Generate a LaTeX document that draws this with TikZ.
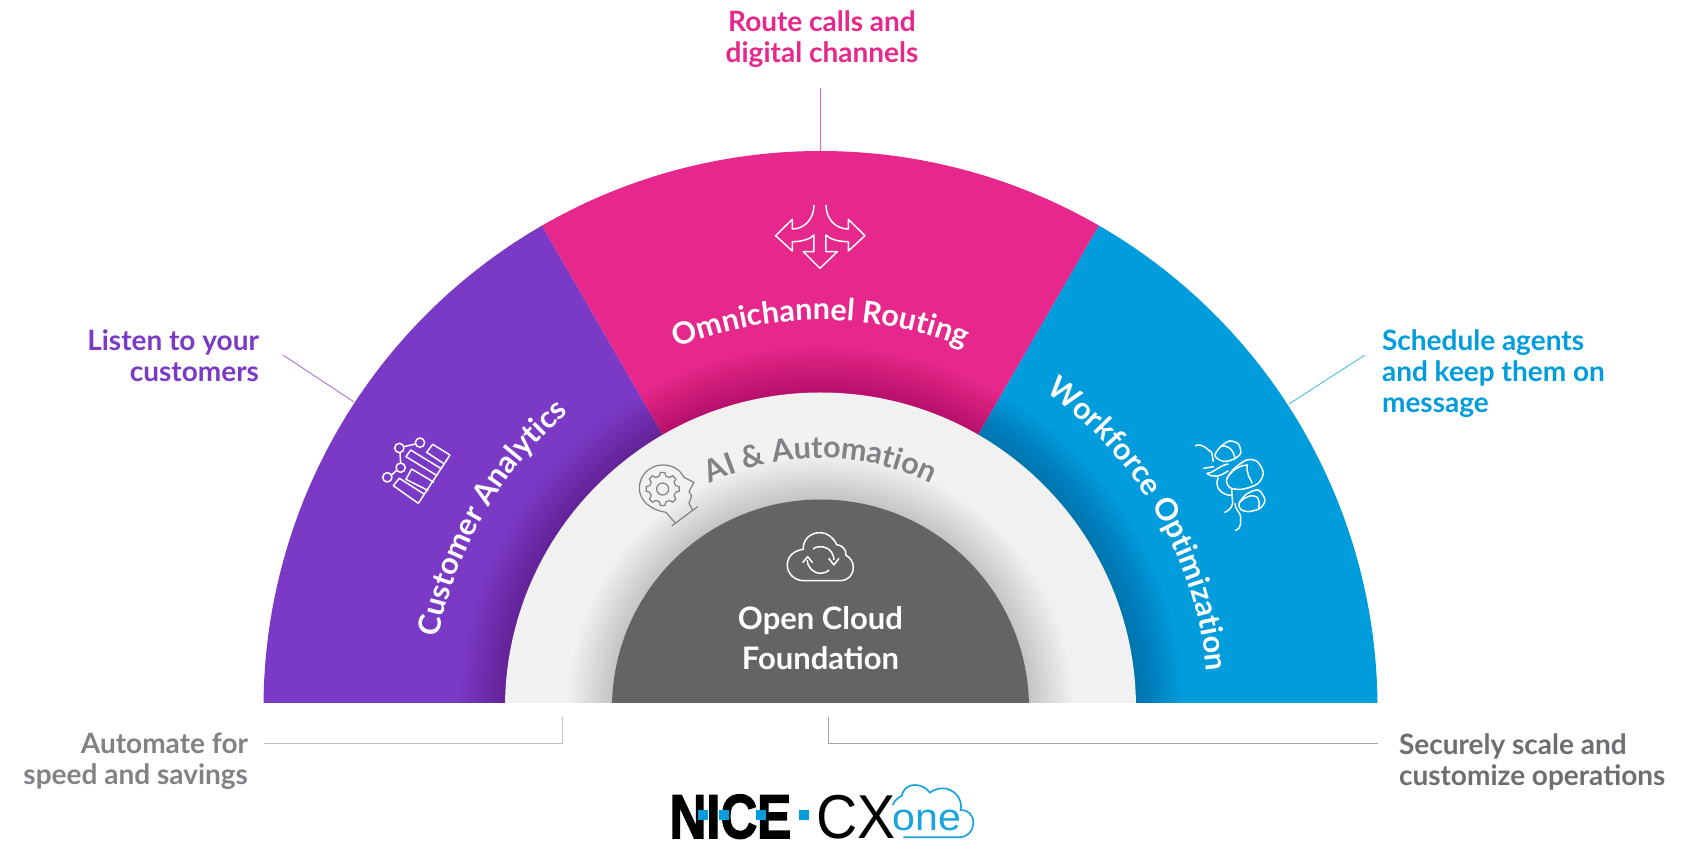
\documentclass[tikz,border=0pt]{standalone}
\usepackage{fontspec}
\setmainfont{Lato}
\newfontfamily\logofont{Liberation Sans}
\newfontfamily\nicefont[BoldFeatures={FakeBold=2.5}]{Liberation Sans}
\usetikzlibrary{decorations.text}
\definecolor{cxpurple}{HTML}{7B3AC6}
\definecolor{cxpink}{HTML}{E6278C}
\definecolor{cxblue}{HTML}{019CDC}
\definecolor{cxgrey}{HTML}{636466}
\definecolor{cxlight}{HTML}{F1F1F1}
\definecolor{cxtext}{HTML}{808285}
\definecolor{cxdark}{HTML}{6D6E71}
\definecolor{cxlogo}{HTML}{1AA3DF}
\newcommand{\curvefont}{\fontsize{30.5}{31}\selectfont\bfseries}
\tikzset{
  sidelabel/.style={font=\fontsize{28}{31}\selectfont\bfseries},
  leader/.style={line width=0.9pt},
  iconline/.style={draw=white,line width=1.5pt,line join=round},
  headline/.style={draw=cxtext,line width=1.2pt,line join=round},
}

\begin{document}
\begin{tikzpicture}[x=1pt,y=1pt]
          \useasboundingbox (-820.5,-135) rectangle (860.5,708);

          % half disc, everything cut at the base line
          \begin{scope}
              \clip (-600,5) rectangle (600,600);
              \fill[cxpurple] (0,0) -- (180:557) arc (180:120:557) -- cycle;
              \fill[cxpink] (0,0) -- (120:557) arc (120:60:557) -- cycle;
              \fill[cxblue] (0,0) -- (60:557) arc (60:0:557) -- cycle;
              \foreach \r in {362,360,...,317}
                  \fill[black,opacity=0.0075] (0,0) circle (\r);
              \fill[cxlight] (0,0) circle (315.5);
              \foreach \r in {252,250,...,209}
                  \fill[black,opacity=0.008] (0,0) circle (\r);
              \fill[cxgrey] (0,0) circle (208.5);
          \end{scope}

          % names on the arcs
          \path[decorate,decoration={text along path,text align=center,
              text={|\color{white}\curvefont|Customer Analytics}}] (180:388) arc (180:120:388);
          \path[decorate,decoration={text along path,text align=center,
              text={|\color{white}\curvefont|Omnichannel Routing}}] (120:388) arc (120:60:388);
          \path[decorate,decoration={text along path,text align=center,
              text={|\color{white}\curvefont|Workforce Optimization}}] (60:388) arc (60:0:388);
          \path[decorate,decoration={text along path,text align=center,
              text={|\color{cxtext}\curvefont|AI {\&} Automation}}] (120:250) arc (120:60:250);
          \node[text=white,align=center,font=\fontsize{31}{40}\selectfont\bfseries] (cloudlabel) at (0,70) {Open Cloud\\Foundation};

          % labels round the half disc
          \node[sidelabel,text=cxpink,align=center] (routelabel) at (1.5,669) {Route calls and\\digital channels};
          \node[sidelabel,text=cxpurple,align=right,anchor=east] (listenlabel) at (-558,352) {Listen to your\\customers};
          \node[sidelabel,text=cxblue,align=left,anchor=west] (schedulelabel) at (558,334) {Schedule agents\\and keep them on\\message};
          \node[sidelabel,text=cxtext,align=right,anchor=east] (automatelabel) at (-569,-53.5) {Automate for\\speed and savings};
          \node[sidelabel,text=cxdark,align=left,anchor=west] (scalelabel) at (575,-53.5) {Securely scale and\\customize operations};

          % leaders
          \coordinate (routetop) at (0,620);
          \coordinate (routeend) at (90:557);
          \coordinate (listentop) at (-537.5,353);
          \coordinate (listenend) at (-466.5,306);
          \coordinate (scheduletop) at (544.5,353);
          \coordinate (scheduleend) at (468.5,304);
          \coordinate (automateleft) at (-556.5,-35);
          \coordinate (automatecorner) at (-258.5,-35);
          \coordinate (automateend) at (-258.5,-9);
          \coordinate (scaleright) at (557,-35);
          \coordinate (scalecorner) at (7.5,-35);
          \coordinate (scaleend) at (7.5,-9);
          \draw[leader,cxpink!70] (routetop) -- (routeend);
          \draw[leader,cxpurple!70] (listentop) -- (listenend);
          \draw[leader,cxblue!70] (scheduletop) -- (scheduleend);
          \draw[leader,black!25] (automateleft) -- (automatecorner) -- (automateend);
          \draw[leader,black!35] (scaleright) -- (scalecorner) -- (scaleend);

          % arrows icon
          \begin{scope}[shift={(-80.5,528)},x=0.3333pt,y=-0.3333pt]
              \draw[iconline] (222,75) .. controls (222,115) and (195,147) .. (157,147) -- (157,118) -- (107,167) -- (157,213) -- (157,185)
                  .. controls (185,185) and (210,178) .. (222,165) -- (222,215) -- (190,215) -- (240,265) -- (292,215) -- (258,215) -- (258,165)
                  .. controls (270,178) and (295,185) .. (325,185) -- (325,213) -- (375,167) -- (325,118) -- (325,147)
                  .. controls (285,147) and (258,115) .. (258,75);
          \end{scope}

          % chart icon
          \begin{scope}[shift={(-460.5,288)},x=0.3333pt,y=-0.3333pt]
              \draw[iconline] (175,250) -- (270,105);
              \draw[iconline] (175,250) -- (100,197) -- (118,175) -- (192,222);
              \draw[iconline] (205,212) -- (138,178) -- (155,147) -- (222,187);
              \draw[iconline] (228,165) -- (138,110) -- (152,90) -- (242,145);
              \draw[iconline] (250,130) -- (200,97) -- (218,73) -- (270,105);
              \draw[iconline] (118,84) circle (14) (180,68) circle (14) (122,143) circle (14) (82,172) circle (14);
              \draw[iconline] (132,80) -- (166,72) (120,98) -- (122,129) (95,165) -- (109,152);
          \end{scope}

          % team icon
          \begin{scope}[shift={(349.5,288)},x=0.3333pt,y=-0.3333pt]
              \draw[iconline] plot[smooth cycle] coordinates {(135,108) (150,82) (178,63) (205,72) (212,100) (190,118) (160,124)};
              \draw[iconline] (150,80) .. controls (175,72) and (190,90) .. (195,115);
              \draw[iconline] (75,77) .. controls (100,68) and (112,90) .. (125,97) -- (130,125);
              \draw[iconline] plot[smooth cycle] coordinates {(170,180) (190,148) (230,120) (262,125) (280,160) (262,192) (215,208) (180,203)};
              \draw[iconline] (170,175) .. controls (190,145) and (215,135) .. (232,135) .. controls (228,160) and (240,175) .. (247,190);
              \draw[iconline] (100,145) -- (132,140) (110,160) .. controls (130,160) and (150,135) .. (175,132) (110,160) .. controls (130,175) and (150,170) .. (175,152);
              \draw[iconline] (145,172) .. controls (130,205) and (160,228) .. (187,226);
              \draw[iconline] (185,205) -- (188,250) .. controls (185,265) and (175,272) .. (163,278);
              \draw[iconline] plot[smooth cycle] coordinates {(207,250) (230,222) (265,210) (285,240) (270,265) (235,275) (212,268)};
              \draw[iconline] (207,250) .. controls (225,228) and (250,222) .. (262,232) .. controls (270,245) and (268,255) .. (266,265);
              \draw[iconline] (195,250) .. controls (195,270) and (210,275) .. (212,290) -- (212,312) .. controls (212,322) and (205,328) .. (195,332);
          \end{scope}

          % head icon
          \begin{scope}[shift={(-200.5,258)},x=0.3333pt,y=-0.3333pt]
              \draw[headline] (155,228) -- (233,170);
              \draw[headline] (165,218) -- (138,187) .. controls (90,180) and (58,150) .. (58,115) .. controls (58,75) and (90,45) .. (128,45)
                  .. controls (160,45) and (180,60) .. (192,82) -- (222,97) -- (207,125) -- (215,137) -- (207,160) -- (217,180);
              \draw[headline] (128,117) circle (18);
              \begin{scope}[shift={(128,117)}]
                  \draw[headline] (-14:40) \foreach \a in {0,45,...,315}{ -- ({\a-14}:40) -- ({\a-8}:50) -- ({\a+8}:50) -- ({\a+14}:40)} -- cycle;
              \end{scope}
          \end{scope}

          % cloud icon
          \begin{scope}[shift={(-200.5,258)},x=0.3333pt,y=-0.3333pt]
              \draw[iconline] (550,392) -- (660,392) .. controls (685,392) and (700,375) .. (700,352) .. controls (700,335) and (690,322) .. (678,316)
                  .. controls (680,298) and (665,285) .. (650,284) .. controls (640,262) and (622,248) .. (600,248)
                  .. controls (570,248) and (548,270) .. (550,298) .. controls (520,302) and (502,320) .. (502,345) .. controls (502,372) and (525,392) .. (550,392);
              \draw[iconline] (562,330) arc (180:50:40);
              \draw[iconline] (579,297) arc (235:360:40);
              \draw[iconline] (548,338) -- (563,320) -- (578,338);
              \draw[iconline] (626,325) -- (642,345) -- (657,325);
          \end{scope}

          % logo
          \node[inner sep=0pt,anchor=base west,xscale=0.82,font=\nicefont\fontsize{62}{62}\selectfont\bfseries] (nicelabel) at (-151,-130) {NICE};
          \node[inner sep=0pt,anchor=base west,xscale=0.92,font=\logofont\fontsize{62}{62}\selectfont] (cxlabel) at (-4,-130) {CX};
          \node[inner sep=0pt,anchor=base west,text=cxlogo,xscale=1.08,font=\logofont\fontsize{38}{38}\selectfont] (onelabel) at (72,-122) {one};
          \foreach \x in {-117.5,-96.5,-59.5,-16.5}
              \fill[cxblue] (\x-5,-112) rectangle (\x+5,-102);
          \begin{scope}[shift={(-200.5,-52)},x=0.3333pt,y=-0.3333pt]
              \draw[cxlogo,line width=1.7pt] (850,232) -- (1015,232) .. controls (1045,232) and (1060,210) .. (1060,187) .. controls (1060,165) and (1045,150) .. (1022,150)
                  .. controls (1030,115) and (1000,85) .. (968,85) .. controls (955,85) and (940,90) .. (930,98) .. controls (920,85) and (905,75) .. (885,75)
                  .. controls (860,75) and (848,92) .. (845,108) .. controls (835,112) and (825,120) .. (818,135);
          \end{scope}
        \end{tikzpicture}
\end{document}
